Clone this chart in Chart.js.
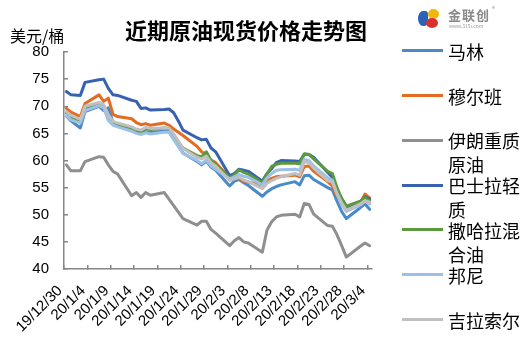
<!DOCTYPE html>
<html><head><meta charset="utf-8">
<script src="https://cdn.jsdelivr.net/npm/chart.js@4.4.1/dist/chart.umd.min.js"></script>
<style>
html,body{margin:0;padding:0;background:#fff;}
#wrap{position:relative;width:532px;height:355px;overflow:hidden;font-family:"Noto Sans CJK SC","Noto Sans",sans-serif;color:#000;}
#c{position:absolute;left:0;top:0;}
.title{position:absolute;left:125px;top:18px;font-size:22px;line-height:22px;font-weight:bold;white-space:nowrap;}
.unit{position:absolute;left:10px;top:27px;font-size:16px;line-height:16px;white-space:nowrap;}
.lg-line{position:absolute;left:402px;width:41px;height:3px;}
.lg-text{position:absolute;left:448px;width:82px;font-size:18px;line-height:24px;}
.logo-t{position:absolute;left:448px;top:8px;font-size:13px;line-height:13px;font-weight:bold;color:#8a8a8a;letter-spacing:1px;}
.logo-r{position:absolute;left:492px;top:4px;font-size:6px;color:#8a8a8a;}
.logo-w{position:absolute;left:449px;top:23px;font-size:5px;line-height:5px;color:#999;}
.blob{position:absolute;border-radius:50%;}
</style>
</head><body>
<div id="wrap">
<canvas id="c" width="532" height="355"></canvas>
<div class="unit">美元/桶</div>
<div class="title">近期原油现货价格走势图</div>
<div class="blob" style="left:428px;top:9px;width:11px;height:10px;background:#f2b70f;"></div>
<div class="blob" style="left:418px;top:11px;width:10px;height:15px;background:#2a62b8;border-radius:60% 30% 40% 60%;"></div>
<div class="blob" style="left:426px;top:18px;width:12px;height:10px;background:#d9302a;"></div>
<div class="logo-t">金联创</div>
<div class="logo-r">®</div>
<div class="logo-w">www.315i.com</div>
<div id="legend"></div>
</div>
<script>
// ---- data ----
const dates = ['2019-12-30','2019-12-31','2020-01-02','2020-01-03','2020-01-06','2020-01-07','2020-01-08','2020-01-09','2020-01-10',
 '2020-01-13','2020-01-14','2020-01-15','2020-01-16','2020-01-17','2020-01-20','2020-01-21','2020-01-22','2020-01-23','2020-01-24',
 '2020-01-27','2020-01-28','2020-01-29','2020-01-30','2020-01-31','2020-02-03','2020-02-04','2020-02-05','2020-02-06','2020-02-07',
 '2020-02-10','2020-02-11','2020-02-12','2020-02-13','2020-02-14','2020-02-17','2020-02-18','2020-02-19','2020-02-20','2020-02-21',
 '2020-02-24','2020-02-25','2020-02-26','2020-02-27','2020-02-28','2020-03-02','2020-03-03','2020-03-04'];
const tickLabels = ['19/12/30','20/1/4','20/1/9','20/1/14','20/1/19','20/1/24','20/1/29','20/2/3','20/2/8','20/2/13','20/2/18','20/2/23','20/2/28','20/3/4'];
const seriesNames = ['马林','穆尔班','伊朗重质原油','巴士拉轻质','撒哈拉混合油','邦尼','吉拉索尔'];
const marlim = [68.2,67.3,66.0,69.0,70.0,69.2,69.7,67.0,66.5,65.7,65.2,65.0,65.3,65.2,65.4,65.3,64.0,62.7,61.4,59.8,59.2,59.9,58.8,58.2,55.3,56.2,56.5,55.9,55.4,53.4,54.2,54.8,55.2,55.5,56.1,55.5,57.2,57.3,56.5,55.0,54.6,52.5,50.6,49.3,51.3,52.0,51.0];
const murban = [69.6,68.9,68.1,70.5,72.1,70.9,71.5,68.5,68.1,67.7,67.0,66.6,66.8,66.5,66.9,66.5,65.8,65.2,64.6,62.6,61.6,61.0,60.1,59.6,56.8,56.9,56.6,56.2,56.0,55.5,56.2,56.7,57.0,57.1,57.3,57.0,58.9,59.0,58.0,56.1,55.3,53.5,52.0,50.9,52.2,53.8,53.1];
const iranHeavy = [59.2,58.1,58.1,59.8,60.7,60.6,59.2,58.0,57.5,53.5,54.1,53.2,54.1,53.6,54.1,52.9,51.7,50.5,49.3,48.1,48.8,48.8,47.3,46.6,44.3,45.2,45.8,45.0,44.8,43.1,47.2,48.7,49.6,49.9,50.1,49.6,52.1,51.9,50.1,48.0,47.9,46.3,44.3,42.2,44.2,44.8,44.3];
const basrahLight = [72.7,72.1,72.0,74.4,74.9,75.0,73.3,72.1,72.0,71.1,70.9,69.6,69.7,69.3,69.4,69.5,68.8,67.3,65.6,64.2,63.8,63.9,62.3,61.6,57.2,57.6,58.4,58.2,58.0,56.2,57.6,58.5,59.6,60.0,59.9,59.8,61.2,61.1,60.6,57.8,56.9,54.5,53.0,51.5,52.4,53.3,52.9];
const saharan = [68.8,68.0,67.2,69.6,70.4,70.0,67.8,66.9,66.6,65.9,65.5,65.2,65.9,65.7,66.0,65.9,64.6,63.4,62.3,60.9,60.7,61.6,60.0,59.3,56.8,57.3,58.3,57.8,57.5,55.9,57.5,58.9,59.3,59.5,59.5,59.4,61.2,61.1,60.3,58.0,57.6,55.0,53.0,51.6,52.5,53.2,52.6];
const bonny = [68.3,67.5,66.9,69.2,70.1,69.7,67.4,66.5,66.2,65.4,65.0,64.8,65.1,64.9,65.2,65.2,63.9,62.6,61.3,60.0,59.4,60.1,59.0,58.4,56.6,57.0,57.4,57.1,56.9,55.5,56.8,57.6,58.2,58.3,58.4,58.2,60.2,60.0,59.0,56.8,56.4,53.8,51.8,50.6,51.8,52.5,52.0];
const girassol = [69.0,68.3,67.6,70.0,70.7,70.3,68.4,67.2,66.9,66.2,65.8,65.6,66.1,65.9,66.0,66.0,64.9,63.6,62.2,60.6,60.3,60.8,59.6,59.0,56.3,56.6,56.9,56.4,56.1,54.8,55.8,56.3,56.7,57.0,57.6,57.3,59.8,59.6,58.6,56.3,56.0,54.0,52.2,50.8,52.0,52.6,52.3];
const colors = ['#4a8ac9','#e36c22','#8f8f8f','#3762b2','#5b9a3c','#9dc0e8','#c0c0c0'];

// ---- build ----
const base = Date.parse(dates[0]);
const dayIdx = dates.map(d => (Date.parse(d) - base) / 86400000);
const allSeries = [marlim, murban, iranHeavy, basrahLight, saharan, bonny, girassol];
const datasets = allSeries.map((vals, i) => ({
  label: seriesNames[i],
  data: vals.map((v, k) => ({x: dayIdx[k] + 0.5, y: v})),
  borderColor: colors[i],
  backgroundColor: colors[i],
  borderWidth: 3,
  pointRadius: 0,
  tension: 0,
  fill: false,
  borderJoinStyle: 'round',
  borderCapStyle: 'round',
  order: allSeries.length - 1 - i
}));

const axisColor = '#868686';
const tickFont = {family: 'Liberation Sans', size: 15};
new Chart(document.getElementById('c'), {
  type: 'line',
  data: {datasets},
  options: {
    responsive: false,
    animation: false,
    events: [],
    layout: {padding: {left: 0, right: 160, top: 52, bottom: 0}},
    plugins: {legend: {display: false}, tooltip: {enabled: false}, title: {display: false}},
    scales: {
      x: {
        type: 'linear', min: 0, max: (Date.parse('2020-03-05') - base) / 86400000,
        afterBuildTicks: s => { s.ticks = tickLabels.map((_, i) => ({value: i * 5})); },
        afterFit: s => { s.height = 86; },
        ticks: {autoSkip: false, maxRotation: 45, minRotation: 45, font: tickFont, color: '#000',
          padding: 17, labelOffset: -4,
          callback: v => tickLabels[v / 5] !== undefined ? tickLabels[v / 5] : ''},
        grid: {drawOnChartArea: false, drawTicks: true, tickLength: -4, color: axisColor, lineWidth: 1.5},
        border: {display: true, color: axisColor, width: 1.5}
      },
      y: {
        min: 40, max: 80,
        afterFit: s => { s.width = 64; },
        ticks: {stepSize: 5, font: tickFont, color: '#000', padding: 19},
        grid: {drawOnChartArea: false, drawTicks: true, tickLength: -4, color: axisColor, lineWidth: 1.5},
        border: {display: true, color: axisColor, width: 1.5}
      }
    }
  }
});

// ---- legend (HTML) ----
const lg = document.getElementById('legend');
seriesNames.forEach((name, i) => {
  const cy = 50.7 + 44.8 * i;
  const l = document.createElement('div');
  l.className = 'lg-line';
  l.style.top = (cy - 1.5) + 'px';
  l.style.background = colors[i];
  lg.appendChild(l);
  const t = document.createElement('div');
  t.className = 'lg-text';
  t.style.top = (cy - 12) + 'px';
  t.textContent = name;
  lg.appendChild(t);
});
</script>
</body></html>
